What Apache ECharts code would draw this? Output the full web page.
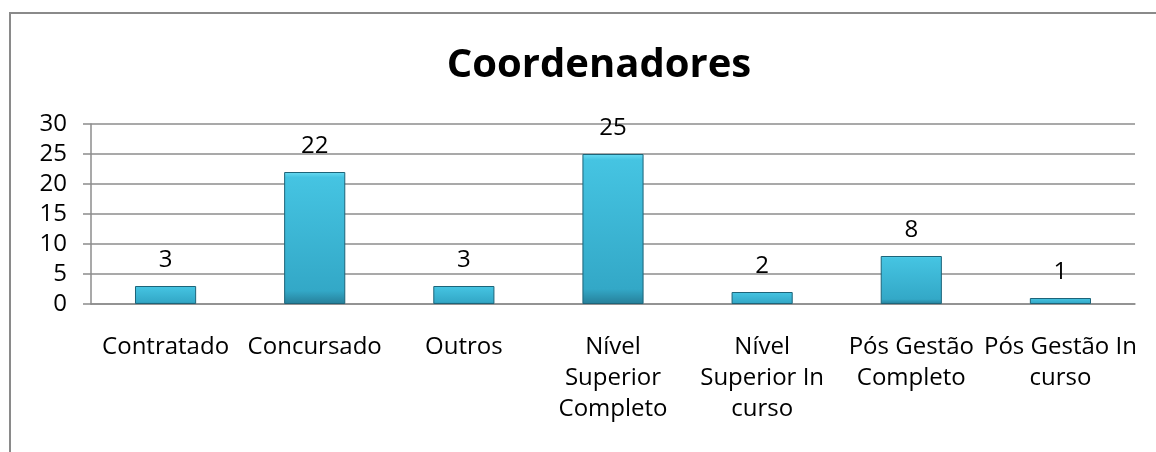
<!DOCTYPE html>
<html>
<head>
<meta charset="utf-8">
<style>
  html, body { margin: 0; padding: 0; background: #fff; }
  #chart { width: 1156px; height: 452px; }
</style>
<script src="https://cdn.jsdelivr.net/npm/echarts@6/dist/echarts.min.js"></script>
</head>
<body>
<div id="chart"></div>
<script>
const categories = [
  'Contratado',
  'Concursado',
  'Outros',
  'Nível\nSuperior\nCompleto',
  'Nível\nSuperior In\ncurso',
  'Pós Gestão\nCompleto',
  'Pós Gestão In\ncurso'
];
const values = [3, 22, 3, 25, 2, 8, 1];
const yTicks = { min: 0, max: 30, interval: 5 };

const font = '"Open Sans", "Liberation Sans", sans-serif';
const chart = echarts.init(document.getElementById('chart'));

const barColor = new echarts.graphic.LinearGradient(0, 0, 0, 1, [
  { offset: 0, color: '#6adbf2' },
  { offset: 0.04, color: '#45c4e2' },
  { offset: 0.9, color: '#33a8c7' },
  { offset: 1, color: '#267f99' }
]);

chart.setOption({
  animation: false,
  title: {
    text: 'Coordenadores',
    left: 594,
    textAlign: 'center',
    top: 41,
    textStyle: { fontFamily: font, fontSize: 40, fontWeight: 'bold', color: '#000' }
  },
  graphic: [{
    type: 'rect',
    shape: { x: 10, y: 13, width: 1300, height: 600 },
    style: { fill: 'none', stroke: '#8a8a8a', lineWidth: 2 },
    silent: true
  }],
  grid: { left: 91, right: 21, top: 124, bottom: 148 },
  xAxis: {
    type: 'category',
    data: categories,
    axisLine: { lineStyle: { color: '#8c8c8c', width: 1.5 } },
    axisTick: { length: 7, lineStyle: { color: '#8c8c8c', width: 1.5 } },
    axisLabel: {
      interval: 0,
      margin: 28,
      fontFamily: font,
      fontSize: 24,
      lineHeight: 31,
      color: '#000'
    }
  },
  yAxis: {
    type: 'value',
    min: yTicks.min,
    max: yTicks.max,
    interval: yTicks.interval,
    axisLine: { show: true, lineStyle: { color: '#8c8c8c', width: 1.5 } },
    axisTick: { show: true, length: 8, lineStyle: { color: '#8c8c8c', width: 1.5 } },
    splitLine: { lineStyle: { color: '#8c8c8c', width: 1.5 } },
    axisLabel: { margin: 24, fontFamily: font, fontSize: 24, color: '#000' }
  },
  series: [{
    type: 'bar',
    data: values,
    barWidth: '41%',
    itemStyle: { color: barColor, borderColor: '#1d6479', borderWidth: 1 },
    label: {
      show: true,
      position: 'top',
      distance: 14,
      fontFamily: font,
      fontSize: 24,
      color: '#000'
    }
  }]
});
</script>
</body>
</html>
